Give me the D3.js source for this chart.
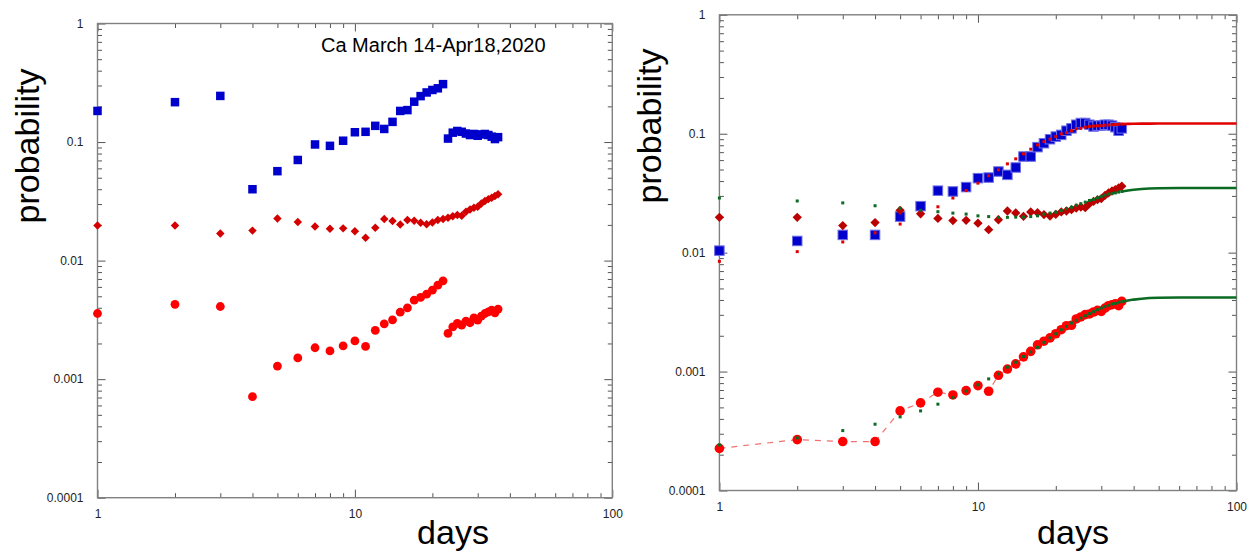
<!DOCTYPE html>
<html>
<head>
<meta charset="utf-8">
<script src="https://cdn.jsdelivr.net/npm/d3@7"></script>
<style>
  body { margin: 0; background: #fff; }
  text { font-family: "Liberation Sans", Arial, Helvetica, sans-serif; }
</style>
</head>
<body>
<svg id="chart" width="1249" height="552"></svg>
<script>
// days since March 14 (1..36)
const days = [1,2,3,4,5,6,7,8,9,10,11,12,13,14,15,16,17,18,19,20,21,22,23,24,25,26,27,28,29,30,31,32,33,34,35,36];

// left panel
const leftSquares = [0.183,0.217,0.245,0.040,0.0568,0.0706,0.0954,0.0929,0.1026,0.121,0.122,0.137,0.129,0.148,0.183,0.186,0.219,0.244,0.262,0.275,0.284,0.308,
  0.107,0.120,0.124,0.122,0.118,0.1146,0.117,0.113,0.116,0.117,0.1146,0.111,0.106,0.110];
const diamonds = [0.0198,0.0198,0.0169,0.0179,0.0227,0.0212,0.0194,0.0186,0.0187,0.0177,0.0156,0.0189,0.0224,0.0216,0.0202,0.0220,0.0217,0.0209,0.0203,0.0210,0.0220,0.0224,
  0.0230,0.0237,0.0242,0.0239,0.0258,0.0270,0.0279,0.0285,0.0303,0.0318,0.0330,0.0339,0.0350,0.0362];
const leftCircles = [0.00358,0.00428,0.0041,0.000711,0.00129,0.00151,0.00184,0.00173,0.00191,0.00210,0.00189,0.00258,0.00293,0.00316,0.00367,0.00400,0.00464,0.00489,0.00521,0.00563,0.00621,0.00675,
  0.00243,0.00276,0.00295,0.00286,0.00309,0.00299,0.00329,0.00315,0.00340,0.00358,0.00370,0.00382,0.00363,0.00390];

// right panel data
const rightSquares = [0.0104,0.01254,0.0141,0.0141,0.0201,0.0246,0.0332,0.0327,0.0356,0.0423,0.0428,0.0481,0.0451,0.052,0.0643,0.0643,0.0771,0.0832,0.0899,0.0946,0.0978,0.106,
  0.111,0.119,0.123,0.123,0.119,0.115,0.117,0.117,0.119,0.119,0.117,0.1135,0.106,0.111];
const rightCircles = [0.000226,0.000268,0.000258,0.000258,0.000467,0.000546,0.000671,0.000636,0.000692,0.000762,0.000683,0.00093,0.00105,0.00116,0.00133,0.00148,0.00168,0.0018,0.00192,0.00208,0.00225,0.00243,
  0.00245,0.00277,0.00288,0.00301,0.00305,0.00317,0.00327,0.00321,0.00342,0.00358,0.00365,0.00372,0.00358,0.00389];

// right panel model fits, one value per day
const squareFit = [0.00845,0.0102,0.0123,0.0147,0.0174,0.0205,0.0243,0.0288,0.0333,0.0384,0.0443,0.0497,0.0558,0.0615,0.0677,0.0741,0.0805,0.0859,0.090,0.0946,0.0997,0.102,
  0.106,0.110,0.111,0.1135,0.115,0.116,0.1165,0.117,0.118,0.1185,0.119,0.1195,0.120,0.1205];
const diamondFit = [0.0288,0.0272,0.0262,0.0248,0.0236,0.0227,0.0221,0.0215,0.0211,0.0204,0.0201,0.0198,0.0198,0.0199,0.0199,0.0201,0.0204,0.0211,0.0215,0.0219,0.0226,0.0234,
  0.0241,0.0251,0.0258,0.0266,0.0275,0.0280,0.0289,0.0297,0.0305,0.0311,0.0314,0.0318,0.0323,0.0327];
const circleFit = [0.000242,0.000277,0.000319,0.000361,0.000416,0.000467,0.000532,0.000605,0.000686,0.000774,0.000868,0.000955,0.00109,0.0012,0.00134,0.00146,0.0016,0.00176,0.00192,0.00208,0.00225,0.0024,
  0.00256,0.0027,0.00282,0.00295,0.00307,0.00319,0.00331,0.00342,0.00353,0.0036,0.0037,0.00374,0.00382,0.00387];

// fit continuation to day 100 (dense dots merge into a line)
const tailDays = [36,38,40,43,46,50,60,80,100];
const squareFitTail = [0.1205,0.1210,0.1214,0.1216,0.1217,0.1218,0.1218,0.1218,0.1218];
const diamondFitTail = [0.0327,0.0333,0.0338,0.0343,0.0346,0.0348,0.0350,0.0350,0.0350];
const circleFitTail = [0.00387,0.00396,0.00403,0.00410,0.00415,0.00418,0.00420,0.00420,0.00420];

// ticks
const xMajor = [1,10,100];
const xMajorLabels = ["1","10","100"];
const xMinor = [2,3,4,5,6,7,8,9,20,30,40,50,60,70,80,90];
const yMajor = [0.0001,0.001,0.01,0.1,1];
const yMajorLabels = ["0.0001","0.001","0.01","0.1","1"];
const yMinor = [0.0002,0.0003,0.0004,0.0005,0.0006,0.0007,0.0008,0.0009,
  0.002,0.003,0.004,0.005,0.006,0.007,0.008,0.009,
  0.02,0.03,0.04,0.05,0.06,0.07,0.08,0.09,
  0.2,0.3,0.4,0.5,0.6,0.7,0.8,0.9];

const svg = d3.select("#chart");

function drawPanel(box) {
  const x = d3.scaleLog().domain([1, 100]).range([box.x0, box.x1]);
  const y = d3.scaleLog().domain([0.0001, 1]).range([box.y1, box.y0]);
  const g = svg.append("g");

  // ticks on all four sides, pointing in
  const sides = [
    {axis: d3.axisBottom(x), t: `translate(0,${box.y1})`, maj: xMajor, min: xMinor, lab: xMajorLabels, pad: 12},
    {axis: d3.axisTop(x), t: `translate(0,${box.y0})`, maj: xMajor, min: xMinor, lab: null, pad: 0},
    {axis: d3.axisLeft(y), t: `translate(${box.x0},0)`, maj: yMajor, min: yMinor, lab: yMajorLabels, pad: 14},
    {axis: d3.axisRight(y), t: `translate(${box.x1},0)`, maj: yMajor, min: yMinor, lab: null, pad: 0}
  ];
  sides.forEach(s => {
    g.append("g").attr("transform", s.t)
      .call(s.axis.tickValues(s.min).tickFormat("").tickSizeInner(-4.5).tickSizeOuter(0));
    g.append("g").attr("transform", s.t)
      .call(s.axis.tickValues(s.maj)
        .tickFormat((d, i) => s.lab ? s.lab[i] : "")
        .tickSizeInner(-8).tickSizeOuter(0)
        .tickPadding(s.pad));
  });
  g.selectAll(".domain").remove();
  g.selectAll(".tick line").attr("stroke", "#555").attr("stroke-width", 1);
  g.selectAll(".tick text").attr("fill", "#222").style("font-size", "12px");

  g.append("rect")
    .attr("x", box.x0).attr("y", box.y0)
    .attr("width", box.x1 - box.x0).attr("height", box.y1 - box.y0)
    .attr("fill", "none").attr("stroke", "#808080").attr("stroke-width", 1.4);

  g.append("text")
    .attr("transform", `translate(${box.ylabX},${box.ylabY}) rotate(-90)`)
    .attr("text-anchor", "middle")
    .style("font-size", "34px")
    .attr("fill", "#000")
    .text("probability");

  g.append("text")
    .attr("x", box.xlabX).attr("y", 544)
    .attr("text-anchor", "middle")
    .style("font-size", "34px")
    .attr("fill", "#000")
    .text("days");

  return {x, y, g};
}

function squares(p, vals, size, fill, stroke) {
  p.g.append("g").selectAll("rect").data(days).join("rect")
    .attr("x", d => p.x(d) - size / 2)
    .attr("y", (d, i) => p.y(vals[i]) - size / 2)
    .attr("width", size).attr("height", size)
    .attr("fill", fill)
    .attr("stroke", stroke || "none").attr("stroke-width", 1);
}

function diamondMarks(p, vals, side, fill) {
  p.g.append("g").selectAll("path").data(days).join("path")
    .attr("d", d3.symbol(d3.symbolSquare, side * side)())
    .attr("transform", (d, i) => `translate(${p.x(d)},${p.y(vals[i])}) rotate(45)`)
    .attr("fill", fill);
}

function circles(p, vals, r, fill) {
  p.g.append("g").selectAll("circle").data(days).join("circle")
    .attr("cx", d => p.x(d))
    .attr("cy", (d, i) => p.y(vals[i]))
    .attr("r", r)
    .attr("fill", fill);
}

function tail(p, vals, color) {
  const line = d3.line().x(d => p.x(d)).y((d, i) => p.y(vals[i]));
  p.g.append("path").datum(tailDays)
    .attr("d", line)
    .attr("fill", "none").attr("stroke", color).attr("stroke-width", 2.6);
}

// left panel
const left = drawPanel({x0: 97.5, x1: 612.3, y0: 23.5, y1: 497.7, ylabX: 39, ylabY: 146, xlabX: 453});
left.g.append("text")
  .attr("x", 321).attr("y", 52)
  .style("font-size", "20px")
  .attr("fill", "#000")
  .text("Ca March 14-Apr18,2020");
squares(left, leftSquares, 8.5, "#0000cc");
diamondMarks(left, diamonds, 6, "#d40000");
circles(left, leftCircles, 4.4, "#ff0000");

// right panel
const right = drawPanel({x0: 719.4, x1: 1236.5, y0: 14.8, y1: 490.5, ylabX: 661, ylabY: 126, xlabX: 1073});

squares(right, rightSquares, 9.5, "#0000cc", "#6f6fe8");
tail(right, squareFitTail, "#e00000");
squares(right, squareFit, 3, "#e00000");

diamondMarks(right, diamonds, 6.6, "#bb0000");
tail(right, diamondFitTail, "#0b6b23");
squares(right, diamondFit, 3, "#0b6b23");

right.g.append("path").datum(days)
  .attr("d", d3.line().x(d => right.x(d)).y((d, i) => right.y(rightCircles[i])))
  .attr("fill", "none").attr("stroke", "#f07070").attr("stroke-width", 1.2)
  .attr("stroke-dasharray", "6,6");
circles(right, rightCircles, 4.8, "#ff0000");
tail(right, circleFitTail, "#0b6b23");
squares(right, circleFit, 3, "#0b6b23");
</script>
</body>
</html>
